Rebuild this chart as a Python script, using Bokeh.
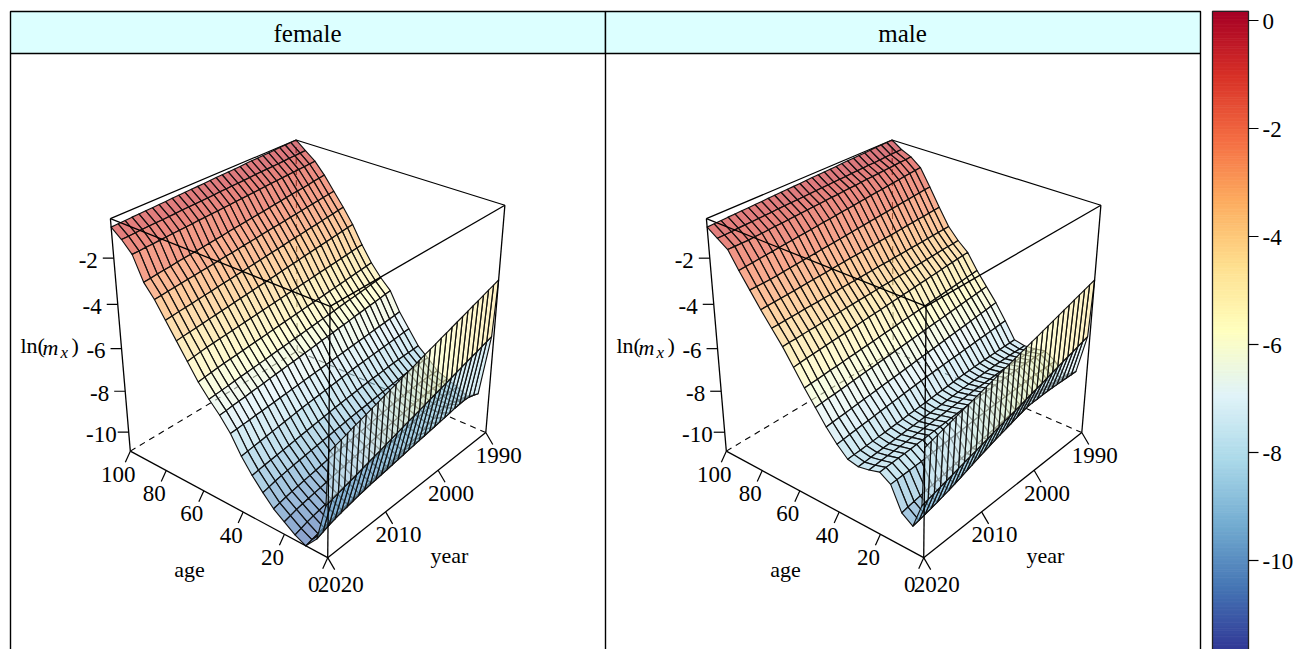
import numpy as np
from bokeh.plotting import figure
from bokeh.models import Range1d
from bokeh.core.properties import value
from bokeh.embed import file_html
from bokeh.resources import INLINE

AGES = [0, 1, 5, 10, 15, 20, 25, 30, 35, 40, 45, 50, 55, 60, 65, 70, 75, 80, 85, 90, 95, 100]
YEARS = list(range(1990, 2021))
AGE_TICKS = [0, 20, 40, 60, 80, 100]
YEAR_TICKS = [1990, 2000, 2010, 2020]
Z_TICKS = [-2, -4, -6, -8, -10]
BAR_TICKS = [0, -2, -4, -6, -8, -10]
PANELS = ["female", "male"]
PALETTE = ["#a50026", "#d73027", "#f46d43", "#fdae61", "#fee090", "#ffffbf",
           "#e0f3f8", "#abd9e9", "#74add1", "#4575b4", "#313695"]

FEMALE = [
[-3.60,-3.69,-3.77,-3.86,-3.95,-4.03,-4.12,-4.21,-4.29,-4.38,-4.47,-4.55,-4.64,-4.73,-4.81,-4.90,-4.99,-5.07,-5.16,-5.25,-5.33,-5.42,-5.51,-5.59,-5.68,-5.77,-5.85,-5.94,-6.03,-6.11,-6.20],
[-6.25,-6.33,-6.41,-6.49,-6.56,-6.64,-6.72,-6.80,-6.88,-6.96,-7.03,-7.11,-7.19,-7.27,-7.35,-7.43,-7.50,-7.58,-7.66,-7.74,-7.82,-7.90,-7.97,-8.05,-8.13,-8.21,-8.29,-8.37,-8.44,-8.52,-8.60],
[-9.20,-9.10,-9.02,-9.00,-9.02,-9.05,-9.10,-9.14,-9.18,-9.22,-9.26,-9.30,-9.34,-9.38,-9.42,-9.46,-9.50,-9.54,-9.58,-9.62,-9.66,-9.70,-9.75,-9.80,-9.86,-9.92,-9.99,-10.06,-10.14,-10.24,-10.35],
[-9.55,-9.48,-9.40,-9.33,-9.27,-9.22,-9.30,-9.40,-9.50,-9.60,-9.68,-9.75,-9.82,-9.88,-9.94,-10.00,-10.06,-10.12,-10.18,-10.24,-10.30,-10.36,-10.42,-10.48,-10.54,-10.60,-10.67,-10.74,-10.81,-10.88,-10.95],
[-9.30,-9.28,-9.26,-9.24,-9.24,-9.26,-9.30,-9.35,-9.40,-9.45,-9.50,-9.55,-9.60,-9.65,-9.70,-9.75,-9.80,-9.86,-9.92,-9.98,-10.04,-10.10,-10.15,-10.21,-10.27,-10.33,-10.39,-10.45,-10.52,-10.61,-10.70],
[-9.10,-9.09,-9.08,-9.07,-9.08,-9.10,-9.13,-9.17,-9.21,-9.25,-9.29,-9.33,-9.38,-9.43,-9.48,-9.53,-9.58,-9.63,-9.68,-9.73,-9.78,-9.83,-9.88,-9.93,-9.98,-10.03,-10.08,-10.13,-10.19,-10.27,-10.35],
[-8.90,-8.89,-8.88,-8.88,-8.89,-8.91,-8.93,-8.96,-8.99,-9.02,-9.06,-9.10,-9.14,-9.18,-9.22,-9.26,-9.30,-9.34,-9.38,-9.42,-9.46,-9.50,-9.55,-9.60,-9.65,-9.70,-9.75,-9.80,-9.86,-9.93,-10.00],
[-8.45,-8.45,-8.46,-8.47,-8.49,-8.51,-8.54,-8.57,-8.60,-8.63,-8.66,-8.69,-8.72,-8.75,-8.78,-8.81,-8.85,-8.89,-8.93,-8.97,-9.01,-9.05,-9.09,-9.13,-9.17,-9.21,-9.26,-9.31,-9.36,-9.43,-9.50],
[-8.05,-8.06,-8.07,-8.08,-8.09,-8.10,-8.12,-8.14,-8.16,-8.18,-8.20,-8.23,-8.26,-8.29,-8.32,-8.35,-8.38,-8.42,-8.46,-8.50,-8.54,-8.58,-8.62,-8.66,-8.70,-8.74,-8.78,-8.82,-8.86,-8.90,-8.95],
[-7.40,-7.42,-7.44,-7.46,-7.48,-7.50,-7.52,-7.54,-7.56,-7.58,-7.60,-7.63,-7.66,-7.69,-7.72,-7.75,-7.78,-7.81,-7.84,-7.87,-7.90,-7.94,-7.98,-8.02,-8.06,-8.10,-8.14,-8.18,-8.22,-8.26,-8.30],
[-6.75,-6.78,-6.80,-6.83,-6.85,-6.88,-6.90,-6.93,-6.95,-6.98,-7.00,-7.03,-7.05,-7.08,-7.10,-7.13,-7.15,-7.18,-7.20,-7.23,-7.25,-7.28,-7.30,-7.33,-7.35,-7.38,-7.40,-7.43,-7.45,-7.48,-7.50],
[-5.90,-5.93,-5.97,-6.00,-6.03,-6.07,-6.10,-6.13,-6.17,-6.20,-6.23,-6.27,-6.30,-6.33,-6.37,-6.40,-6.43,-6.47,-6.50,-6.53,-6.57,-6.60,-6.63,-6.67,-6.70,-6.73,-6.77,-6.80,-6.83,-6.87,-6.90],
[-5.45,-5.48,-5.51,-5.55,-5.58,-5.61,-5.64,-5.67,-5.70,-5.74,-5.77,-5.80,-5.83,-5.86,-5.89,-5.93,-5.96,-5.99,-6.02,-6.05,-6.08,-6.12,-6.15,-6.18,-6.21,-6.24,-6.27,-6.31,-6.34,-6.37,-6.40],
[-4.90,-4.93,-4.96,-4.99,-5.02,-5.05,-5.08,-5.11,-5.14,-5.17,-5.20,-5.23,-5.26,-5.29,-5.32,-5.35,-5.38,-5.41,-5.44,-5.47,-5.50,-5.53,-5.56,-5.59,-5.62,-5.65,-5.68,-5.72,-5.76,-5.80,-5.85],
[-4.20,-4.23,-4.26,-4.29,-4.32,-4.35,-4.38,-4.41,-4.44,-4.47,-4.50,-4.53,-4.56,-4.59,-4.62,-4.65,-4.68,-4.71,-4.74,-4.77,-4.80,-4.83,-4.86,-4.89,-4.92,-4.95,-4.98,-5.01,-5.05,-5.10,-5.15],
[-3.40,-3.43,-3.47,-3.50,-3.54,-3.57,-3.61,-3.64,-3.68,-3.71,-3.75,-3.78,-3.82,-3.85,-3.89,-3.92,-3.96,-3.99,-4.03,-4.06,-4.10,-4.13,-4.17,-4.20,-4.24,-4.27,-4.31,-4.34,-4.38,-4.41,-4.45],
[-2.75,-2.78,-2.82,-2.85,-2.88,-2.92,-2.95,-2.98,-3.02,-3.05,-3.08,-3.12,-3.15,-3.18,-3.22,-3.25,-3.28,-3.32,-3.35,-3.38,-3.42,-3.45,-3.48,-3.52,-3.55,-3.58,-3.62,-3.65,-3.68,-3.72,-3.75],
[-2.15,-2.18,-2.21,-2.24,-2.27,-2.30,-2.33,-2.36,-2.39,-2.42,-2.45,-2.48,-2.51,-2.54,-2.57,-2.60,-2.63,-2.66,-2.69,-2.72,-2.75,-2.78,-2.81,-2.84,-2.87,-2.90,-2.93,-2.96,-2.99,-3.02,-3.05],
[-1.55,-1.58,-1.61,-1.65,-1.68,-1.71,-1.74,-1.77,-1.80,-1.83,-1.87,-1.90,-1.93,-1.96,-1.99,-2.02,-2.05,-2.08,-2.12,-2.15,-2.18,-2.21,-2.24,-2.27,-2.30,-2.33,-2.37,-2.40,-2.43,-2.47,-2.50],
[-1.05,-1.07,-1.08,-1.10,-1.11,-1.13,-1.14,-1.16,-1.17,-1.19,-1.20,-1.22,-1.23,-1.25,-1.26,-1.28,-1.29,-1.31,-1.32,-1.34,-1.35,-1.37,-1.38,-1.40,-1.41,-1.43,-1.44,-1.46,-1.47,-1.49,-1.50],
[-0.70,-0.71,-0.72,-0.73,-0.75,-0.76,-0.77,-0.78,-0.79,-0.80,-0.82,-0.83,-0.84,-0.85,-0.86,-0.87,-0.89,-0.90,-0.91,-0.92,-0.93,-0.94,-0.96,-0.97,-0.98,-0.99,-1.00,-1.01,-1.03,-1.04,-1.05],
[-0.35,-0.36,-0.37,-0.38,-0.40,-0.41,-0.42,-0.43,-0.44,-0.45,-0.47,-0.48,-0.49,-0.50,-0.51,-0.52,-0.54,-0.55,-0.56,-0.57,-0.58,-0.59,-0.61,-0.62,-0.63,-0.64,-0.65,-0.66,-0.68,-0.69,-0.70],
]

MALE = [
[-3.60,-3.68,-3.76,-3.84,-3.92,-4.00,-4.08,-4.16,-4.24,-4.32,-4.40,-4.48,-4.56,-4.64,-4.72,-4.80,-4.88,-4.96,-5.04,-5.12,-5.20,-5.28,-5.36,-5.44,-5.52,-5.60,-5.68,-5.76,-5.84,-5.92,-6.00],
[-6.25,-6.33,-6.41,-6.49,-6.56,-6.64,-6.72,-6.80,-6.88,-6.96,-7.03,-7.11,-7.19,-7.27,-7.35,-7.43,-7.50,-7.58,-7.66,-7.74,-7.82,-7.90,-7.97,-8.05,-8.13,-8.21,-8.29,-8.37,-8.44,-8.52,-8.60],
[-8.10,-8.09,-8.08,-8.07,-8.06,-8.05,-8.05,-8.06,-8.07,-8.08,-8.10,-8.18,-8.26,-8.34,-8.42,-8.50,-8.58,-8.67,-8.76,-8.85,-8.95,-9.05,-9.15,-9.24,-9.33,-9.41,-9.49,-9.56,-9.63,-9.69,-9.75],
[-8.50,-8.48,-8.46,-8.44,-8.42,-8.41,-8.41,-8.42,-8.43,-8.45,-8.47,-8.50,-8.54,-8.58,-8.62,-8.66,-8.70,-8.75,-8.80,-8.85,-8.90,-8.95,-9.00,-9.05,-9.10,-9.15,-9.19,-9.24,-9.29,-9.34,-9.40],
[-8.00,-8.00,-8.00,-7.99,-7.99,-7.99,-8.00,-8.01,-8.02,-8.03,-8.04,-8.05,-8.06,-8.07,-8.08,-8.10,-8.12,-8.14,-8.16,-8.18,-8.20,-8.22,-8.24,-8.26,-8.28,-8.30,-8.31,-8.32,-8.33,-8.34,-8.35],
[-7.70,-7.69,-7.68,-7.67,-7.66,-7.66,-7.66,-7.67,-7.68,-7.69,-7.70,-7.71,-7.72,-7.73,-7.75,-7.77,-7.79,-7.81,-7.83,-7.85,-7.87,-7.89,-7.91,-7.93,-7.95,-7.97,-7.99,-8.00,-8.02,-8.03,-8.05],
[-7.80,-7.79,-7.78,-7.77,-7.77,-7.77,-7.77,-7.78,-7.79,-7.80,-7.81,-7.82,-7.83,-7.85,-7.87,-7.89,-7.91,-7.93,-7.95,-7.97,-7.99,-8.01,-8.03,-8.05,-8.07,-8.09,-8.11,-8.13,-8.15,-8.18,-8.20],
[-7.85,-7.85,-7.84,-7.84,-7.84,-7.84,-7.85,-7.86,-7.87,-7.88,-7.89,-7.91,-7.93,-7.95,-7.97,-7.99,-8.01,-8.03,-8.05,-8.07,-8.09,-8.11,-8.13,-8.15,-8.17,-8.19,-8.21,-8.23,-8.25,-8.28,-8.30],
[-7.75,-7.75,-7.75,-7.75,-7.76,-7.76,-7.77,-7.78,-7.79,-7.80,-7.81,-7.83,-7.85,-7.87,-7.89,-7.91,-7.93,-7.95,-7.97,-7.99,-8.01,-8.03,-8.05,-8.07,-8.09,-8.11,-8.13,-8.15,-8.17,-8.18,-8.20],
[-7.00,-7.02,-7.04,-7.06,-7.08,-7.10,-7.12,-7.14,-7.16,-7.18,-7.20,-7.22,-7.24,-7.26,-7.28,-7.30,-7.32,-7.35,-7.38,-7.41,-7.44,-7.47,-7.50,-7.53,-7.56,-7.59,-7.62,-7.65,-7.68,-7.72,-7.75],
[-6.30,-6.33,-6.36,-6.39,-6.42,-6.45,-6.48,-6.51,-6.54,-6.57,-6.60,-6.63,-6.66,-6.69,-6.72,-6.75,-6.78,-6.81,-6.84,-6.87,-6.90,-6.93,-6.96,-6.99,-7.02,-7.05,-7.08,-7.11,-7.14,-7.17,-7.20],
[-5.70,-5.73,-5.76,-5.79,-5.81,-5.84,-5.87,-5.90,-5.93,-5.96,-5.98,-6.01,-6.04,-6.07,-6.10,-6.13,-6.15,-6.18,-6.21,-6.24,-6.27,-6.30,-6.32,-6.35,-6.38,-6.41,-6.44,-6.47,-6.49,-6.52,-6.55],
[-5.10,-5.13,-5.15,-5.18,-5.21,-5.23,-5.26,-5.29,-5.31,-5.34,-5.37,-5.39,-5.42,-5.45,-5.47,-5.50,-5.53,-5.55,-5.58,-5.61,-5.63,-5.66,-5.69,-5.71,-5.74,-5.77,-5.79,-5.82,-5.85,-5.87,-5.90],
[-4.40,-4.43,-4.45,-4.48,-4.50,-4.53,-4.56,-4.58,-4.61,-4.63,-4.66,-4.69,-4.71,-4.74,-4.76,-4.79,-4.82,-4.84,-4.87,-4.89,-4.92,-4.95,-4.97,-5.00,-5.02,-5.05,-5.08,-5.10,-5.13,-5.16,-5.20],
[-4.00,-4.02,-4.03,-4.05,-4.07,-4.08,-4.10,-4.12,-4.13,-4.15,-4.17,-4.18,-4.20,-4.22,-4.23,-4.25,-4.27,-4.28,-4.30,-4.32,-4.33,-4.35,-4.37,-4.38,-4.40,-4.42,-4.43,-4.45,-4.47,-4.48,-4.50],
[-3.50,-3.51,-3.53,-3.54,-3.55,-3.57,-3.58,-3.59,-3.61,-3.62,-3.63,-3.65,-3.66,-3.67,-3.69,-3.70,-3.71,-3.73,-3.74,-3.75,-3.77,-3.78,-3.79,-3.81,-3.82,-3.83,-3.85,-3.86,-3.87,-3.89,-3.90],
[-2.75,-2.77,-2.79,-2.81,-2.82,-2.84,-2.86,-2.88,-2.90,-2.92,-2.93,-2.95,-2.97,-2.99,-3.01,-3.03,-3.04,-3.06,-3.08,-3.10,-3.12,-3.14,-3.15,-3.17,-3.19,-3.21,-3.23,-3.25,-3.26,-3.28,-3.30],
[-1.95,-1.97,-2.00,-2.02,-2.05,-2.07,-2.10,-2.12,-2.15,-2.17,-2.20,-2.22,-2.25,-2.27,-2.30,-2.32,-2.35,-2.37,-2.40,-2.42,-2.45,-2.47,-2.50,-2.52,-2.55,-2.57,-2.60,-2.62,-2.63,-2.64,-2.65],
[-1.20,-1.23,-1.25,-1.28,-1.31,-1.33,-1.36,-1.39,-1.41,-1.44,-1.47,-1.49,-1.52,-1.55,-1.57,-1.60,-1.63,-1.65,-1.68,-1.71,-1.73,-1.76,-1.79,-1.81,-1.84,-1.87,-1.89,-1.92,-1.95,-1.97,-2.00],
[-0.85,-0.87,-0.88,-0.90,-0.92,-0.93,-0.95,-0.97,-0.98,-1.00,-1.02,-1.03,-1.05,-1.07,-1.08,-1.10,-1.12,-1.13,-1.15,-1.17,-1.18,-1.20,-1.22,-1.23,-1.25,-1.27,-1.28,-1.30,-1.30,-1.30,-1.30],
[-0.65,-0.66,-0.67,-0.68,-0.70,-0.71,-0.72,-0.73,-0.74,-0.75,-0.77,-0.78,-0.79,-0.80,-0.81,-0.82,-0.84,-0.85,-0.86,-0.87,-0.88,-0.89,-0.91,-0.92,-0.93,-0.94,-0.95,-0.96,-0.98,-0.99,-1.00],
[-0.35,-0.36,-0.37,-0.38,-0.40,-0.41,-0.42,-0.43,-0.44,-0.45,-0.47,-0.48,-0.49,-0.50,-0.51,-0.52,-0.54,-0.55,-0.56,-0.57,-0.58,-0.59,-0.61,-0.62,-0.63,-0.64,-0.65,-0.66,-0.68,-0.69,-0.70],
]

ZMIN, ZMAX = -10.95, -0.35
BAR_MIN, BAR_MAX = -11.7, 0.17
SERIF = value("Liberation Serif")


def hex_rgb(h):
    return np.array([int(h[i:i + 2], 16) for i in (1, 3, 5)], float)


STOPS = np.array([hex_rgb(c) for c in PALETTE])


def colour(z):
    t = np.clip((BAR_MAX - z) / (BAR_MAX - BAR_MIN), 0, 1) * (len(PALETTE) - 1)
    i = min(int(t), len(PALETTE) - 2)
    c = STOPS[i] + (STOPS[i + 1] - STOPS[i]) * (t - i)
    return "#%02x%02x%02x" % tuple(int(round(k)) for k in c)


# Perspective camera of the 3-D box, fitted to where its eight corners fall on the page
BOX = {(0, 0, 0): (327, 556.5), (1, 0, 0): (130, 452), (0, 1, 0): (485, 433), (1, 1, 0): (297, 349),
       (0, 0, 1): (329.5, 305), (1, 0, 1): (110, 218), (0, 1, 1): (505, 205), (1, 1, 1): (295, 140)}
A, b = [], []
for (u, v, w), (sx, sy) in BOX.items():
    A.append([u, v, w, 1, 0, 0, 0, 0, -sx * u, -sx * v, -sx * w]); b.append(sx)
    A.append([0, 0, 0, 0, u, v, w, 1, -sy * u, -sy * v, -sy * w]); b.append(sy)
H = np.linalg.lstsq(np.array(A, float), np.array(b, float), rcond=None)[0]


def unit(u, v, w, dx=0.0):
    d = H[8] * u + H[9] * v + H[10] * w + 1
    return (H[0] * u + H[1] * v + H[2] * w + H[3]) / d + dx, (H[4] * u + H[5] * v + H[6] * w + H[7]) / d


def proj(age, year, z, dx=0.0):
    return unit(age / 100, (2020 - year) / 30, (z - ZMIN) / (ZMAX - ZMIN), dx)


p = figure(width=1304, height=649, output_backend="svg", toolbar_location=None,
           x_range=Range1d(0, 1304), y_range=Range1d(649, 0),
           min_border=0, outline_line_color=None, x_axis_type=None, y_axis_type=None)
p.xgrid.visible = False
p.ygrid.visible = False
p.background_fill_color = "white"
p.border_fill_color = "white"

LEFT, MID, RIGHT, TOP, STRIP, BOTTOM = 10, 605, 1200, 11, 53, 652
p.quad(left=[LEFT, MID], right=[MID, RIGHT], top=[TOP, TOP], bottom=[STRIP, STRIP],
       fill_color="#dcffff", line_color="black", line_width=1.4)
for name, cx in zip(PANELS, [307, 902]):
    p.text([cx], [33], text=[name], text_font=SERIF, text_font_size="25px",
           text_align="center", text_baseline="middle", text_color="black")
p.multi_line([[LEFT, LEFT], [MID, MID], [RIGHT, RIGHT]], [[STRIP, BOTTOM]] * 3, line_color="black", line_width=1.4)


def seg(a, c, dx, **kw):
    p1, p2 = unit(*a, dx), unit(*c, dx)
    p.line([p1[0], p2[0]], [p1[1], p2[1]], line_color="black", **kw)


def label(x, y, t, size="23px", align="center"):
    p.text([x], [y], text=[t], text_font=SERIF, text_font_size=size, text_align=align,
           text_baseline="middle", text_color="black")


for table, dx in zip([FEMALE, MALE], [0, 596]):
    Z = np.array(table)
    # back edges of the box, behind the surface
    seg((1, 0, 0), (1, 1, 0), dx, line_width=1.1, line_dash="6 5")
    seg((0, 1, 0), (1, 1, 0), dx, line_width=1.1, line_dash="6 5")
    seg((1, 1, 0), (1, 1, 1), dx, line_width=1.0, line_dash="6 5")
    seg((1, 0, 1), (1, 1, 1), dx, line_width=1.2)
    seg((1, 1, 1), (0, 1, 1), dx, line_width=1.2)
    # surface, painted from far to near
    xs, ys, cols = [], [], []
    for i in range(len(AGES) - 2, -1, -1):
        for j in range(len(YEARS) - 1):
            corners = [(i, j), (i + 1, j), (i + 1, j + 1), (i, j + 1)]
            pts = [proj(AGES[a], YEARS[y], Z[a, y], dx) for a, y in corners]
            xs.append([q[0] for q in pts])
            ys.append([q[1] for q in pts])
            cols.append(colour(np.mean([Z[a, y] for a, y in corners])))
    p.patches(xs, ys, fill_color=cols, fill_alpha=0.6, line_color="#111111", line_width=1.15, line_join="round")
    # front edges of the box
    for a, c in [((1, 0, 0), (0, 0, 0)), ((0, 0, 0), (0, 1, 0)), ((1, 0, 0), (1, 0, 1)), ((0, 1, 0), (0, 1, 1)),
                 ((0, 0, 0), (0, 0, 1)), ((1, 0, 1), (0, 0, 1)), ((0, 0, 1), (0, 1, 1))]:
        seg(a, c, dx, line_width=1.3)
    for a in AGE_TICKS:
        x, y = proj(a, 2020, ZMIN, dx)
        p.line([x, x - 5], [y, y + 11], line_color="black", line_width=1.2)
        extra = 4 if a == 0 else 0
        label(x - 12 - extra / 2, y + 23 + extra, str(a))
    for yr in YEAR_TICKS:
        x, y = proj(0, yr, ZMIN, dx)
        p.line([x, x + 7], [y, y + 12], line_color="black", line_width=1.2)
        extra = 4 if yr == 2020 else 0
        label(x + 13, y + 23 + extra, str(yr))
    for z in Z_TICKS:
        x, y = proj(100, 2020, z, dx)
        p.line([x, x - 11], [y, y], line_color="black", line_width=1.2)
        label(x - (12 if z == -10 else 16), y + 2, str(z), align="right")
    label(189 + dx, 569, "age", size="22px")
    label(449 + dx, 555, "year", size="22px")
    label(20 + dx, 345, "ln(", size="22px", align="left")
    p.text([42 + dx], [347], text=["m"], text_font=SERIF, text_font_style="italic", text_font_size="22px",
           text_baseline="middle", text_color="black")
    p.text([60 + dx], [352], text=["x"], text_font=SERIF, text_font_style="italic", text_font_size="17px",
           text_baseline="middle", text_color="black")
    label(71 + dx, 345, ")", size="22px", align="left")

# Colour key
BAR_L, BAR_R, BAR_PX = 1212, 1248, 54.0


def bar_y(z):
    return 20 + (0 - z) * BAR_PX


levels = np.linspace(BAR_MAX, BAR_MIN, 240)
shades = [colour((levels[k] + levels[k + 1]) / 2) for k in range(len(levels) - 1)]
p.quad(left=BAR_L, right=BAR_R, top=[bar_y(z) for z in levels[:-1]], bottom=[bar_y(z) for z in levels[1:]],
       fill_color=shades, line_color=shades, line_width=0.8)
p.multi_line([[BAR_L, BAR_L, BAR_R, BAR_R, BAR_L]], [[bar_y(BAR_MIN), bar_y(BAR_MAX), bar_y(BAR_MAX), bar_y(BAR_MIN), bar_y(BAR_MIN)]],
             line_color="#222222", line_width=1.3)
for z in BAR_TICKS:
    p.line([BAR_R, BAR_R + 10], [bar_y(z), bar_y(z)], line_color="black", line_width=1.2)
    label(1262, bar_y(z) + 1, str(z), size="23px", align="left")

open("out.html", "w").write(file_html(p, INLINE))
